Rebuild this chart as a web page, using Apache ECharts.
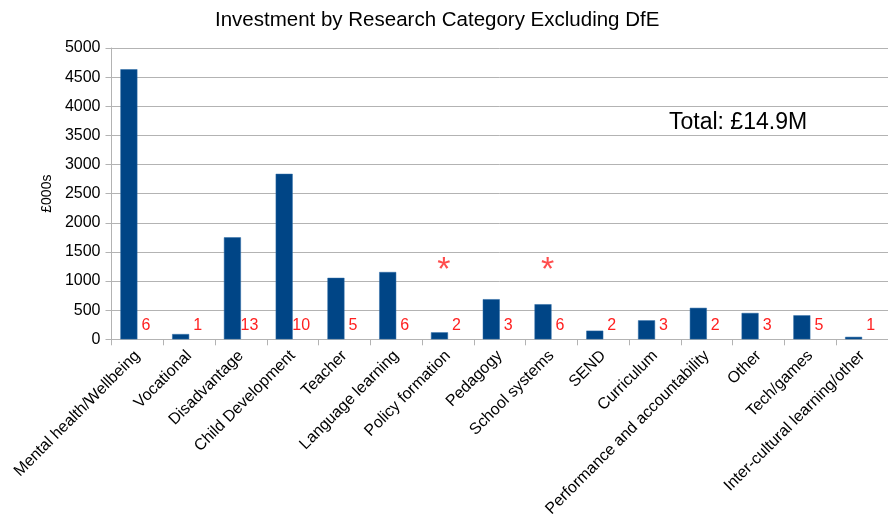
<!DOCTYPE html>
<html>
<head>
<meta charset="utf-8">
<script src="https://cdn.jsdelivr.net/npm/echarts@6/dist/echarts.min.js"></script>
<style>
  html, body { margin: 0; padding: 0; background: #fff; }
  #chart { width: 888px; height: 531px; }
</style>
</head>
<body>
<div id="chart"></div>
<script>
// Research categories and their investment (£000s)
const categories = [
  'Mental health/Wellbeing', 'Vocational', 'Disadvantage', 'Child Development',
  'Teacher', 'Language learning', 'Policy formation', 'Pedagogy',
  'School systems', 'SEND', 'Curriculum', 'Performance and accountability',
  'Other', 'Tech/games', 'Inter-cultural learning/other'
];
const investment = [4635, 90, 1750, 2840, 1055, 1155, 120, 688, 602, 148, 326, 540, 452, 412, 42];
// Number of projects in each category
const projectCounts = [6, 1, 13, 10, 5, 6, 2, 3, 6, 2, 3, 2, 3, 5, 1];
// Flagged categories (asterisk markers)
const flagged = ['Policy formation', 'School systems'];
const flagLevel = 1300;
const yTicks = { min: 0, max: 5000, interval: 500 };
const totalText = 'Total: £14.9M';

const FONT = '"Liberation Sans", Arial, sans-serif';
const chart = echarts.init(document.getElementById('chart'), null, { renderer: 'canvas' });

chart.setOption({
  animation: false,
  backgroundColor: '#ffffff',
  textStyle: { fontFamily: FONT },
  title: {
    text: 'Investment by Research Category Excluding DfE',
    left: 210,
    top: 5,
    textStyle: { fontFamily: FONT, fontSize: 20.5, fontWeight: 'normal', color: '#000' }
  },
  graphic: [{
    type: 'text',
    left: 669,
    top: 111,
    style: { text: totalText, font: '23px ' + FONT, fill: '#000' }
  }],
  grid: { left: 111.5, right: -2.5, top: 48, bottom: 191.7, containLabel: false },
  xAxis: {
    type: 'category',
    data: categories,
    axisLine: { lineStyle: { color: '#b3b3b3', width: 1 } },
    axisTick: { show: true, length: 6, lineStyle: { color: '#b3b3b3' } },
    axisLabel: {
      interval: 0,
      rotate: 45,
      fontSize: 16,
      color: '#000',
      fontFamily: FONT,
      margin: 14
    }
  },
  yAxis: {
    type: 'value',
    min: yTicks.min,
    max: yTicks.max,
    interval: yTicks.interval,
    name: '£000s',
    nameLocation: 'middle',
    nameGap: 50,
    nameTextStyle: { fontSize: 14, color: '#000', fontFamily: FONT },
    axisLine: { show: true, lineStyle: { color: '#b3b3b3' } },
    axisTick: { show: true, length: 6, lineStyle: { color: '#b3b3b3' } },
    axisLabel: {
      fontSize: 16, color: '#000', fontFamily: FONT, margin: 11,
      formatter: v => String(v)
    },
    splitLine: { show: true, lineStyle: { color: '#b3b3b3', width: 1 } }
  },
  series: [
    {
      name: 'Investment',
      type: 'bar',
      data: investment,
      barWidth: 17,
      barGap: '0%',
      itemStyle: { color: '#004586', borderColor: '#2a6aa6', borderWidth: 0.5 }
    },
    {
      name: 'Projects',
      type: 'bar',
      data: projectCounts,
      barWidth: 17,
      barGap: '0%',
      itemStyle: { color: 'rgba(0,0,0,0)' },
      label: {
        show: true,
        position: 'insideBottom',
        distance: 6,
        fontSize: 16,
        color: '#ff2020',
        fontFamily: FONT
      }
    },
    {
      name: 'Flag',
      type: 'scatter',
      symbolSize: 0,
      data: flagged.map(c => [c, flagLevel]),
      label: {
        show: true,
        position: 'inside',
        formatter: '*',
        offset: [-4, 7],
        fontSize: 34,
        color: '#ff2020',
        fontFamily: FONT
      }
    }
  ]
});
</script>
</body>
</html>
